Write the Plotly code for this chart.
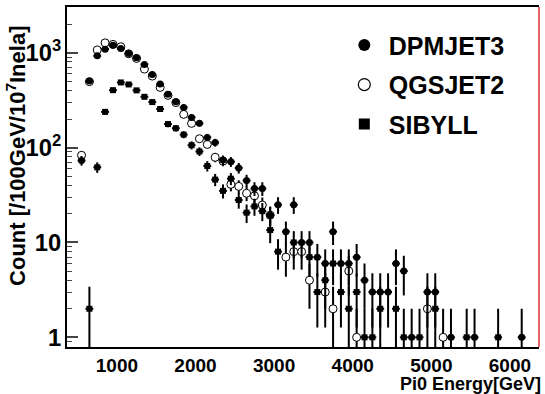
import numpy as np
import plotly.graph_objects as go

# ---------------- data (bin centres in GeV, counts per 100 GeV) ----------------
dpm_x = [550, 650, 750, 850, 950, 1050, 1150, 1250, 1350, 1450, 1550, 1650, 1750, 1850,
         1950, 2050, 2150, 2250, 2350, 2450, 2550, 2650, 2750, 2850, 2950, 3050, 3150,
         3250, 3350, 3450, 3550, 3650, 3750, 3850, 3950, 4050, 4150, 4250, 4350, 4450,
         4550, 4650, 4750, 4950, 5050, 5250, 5550, 6150]
dpm_y = [73, 502, 927, 1091, 1197, 1110, 984, 884, 753, 590, 467, 364, 304, 265,
         208, 180, 128, 113, 74, 71, 61, 45, 37, 37, 19.4, 25, 13,
         25, 10, 10, 7, 6, 13, 6, 6, 7, 4, 3, 3, 3,
         6, 5, 1, 3, 3, 1, 1, 1]

qgs_x = [550, 650, 750, 850, 950, 1050, 1150, 1250, 1350, 1450, 1550, 1650, 1750, 1850,
         1950, 2050, 2150, 2250, 2350, 2450, 2550, 2650, 2750, 2850, 2950, 3150, 3250,
         3350, 3450, 3650, 3750, 3950, 4050, 4950, 5150]
qgs_y = [83, 495, 1070, 1271, 1225, 1156, 975, 870, 672, 567, 431, 355, 298, 224,
         180, 124, 108, 79, 72, 41, 39, 33, 31, 24.8, 19.4, 7, 8,
         8, 4, 3, 2, 5, 1, 2, 1]

sib_x = [650, 750, 850, 950, 1050, 1150, 1250, 1350, 1450, 1550, 1650, 1750, 1850, 1950,
         2050, 2150, 2250, 2350, 2450, 2550, 2650, 2750, 2850, 2950, 3050, 3250, 3450,
         3550, 3650, 3750, 3850, 3950, 4050, 4150, 4250, 4350, 4550, 4650, 4850, 5050,
         5450, 5850]
sib_y = [2, 62, 238, 403, 486, 463, 401, 343, 302, 255, 177, 160, 137, 106,
         91, 64, 46, 35, 47, 28, 20.6, 24, 21.4, 13.5, 8, 10, 7,
         3, 4, 6, 3, 2, 3, 1, 1, 2, 2, 1, 1, 2,
         1, 1]

x_ticks = [1000, 2000, 3000, 4000, 5000, 6000]
BIN_WIDTH = 100  # GeV

FONT = "Liberation Sans, Arial, sans-serif"

fig = go.Figure()


def add_series(xs, ys, name, symbol, size, fill, lw):
    ys = np.asarray(ys, dtype=float)
    err = np.sqrt(ys)  # Poisson statistical errors
    fig.add_trace(go.Scatter(
        x=xs, y=ys, mode="markers", name=name, showlegend=False,
        marker=dict(symbol=symbol, size=size, color=fill,
                    line=dict(color="black", width=lw)),
        error_y=dict(type="data", array=err, color="black", thickness=2, width=0),
        error_x=dict(type="constant", value=BIN_WIDTH / 2, color="black",
                     thickness=2, width=0),
    ))


add_series(qgs_x, qgs_y, "QGSJET2", "circle", 8, "white", 1)
add_series(sib_x, sib_y, "SIBYLL", "square", 6, "black", 0)
add_series(dpm_x, dpm_y, "DPMJET3", "circle", 7, "black", 0)

# legend entries
for name, sym, size, fill, lw in [("DPMJET3", "circle", 12, "black", 0),
                                  ("QGSJET2", "circle", 12, "white", 1.2),
                                  ("SIBYLL", "square", 11, "black", 0)]:
    fig.add_trace(go.Scatter(
        x=[None], y=[None], mode="markers", name=name, legendgroup=name,
        marker=dict(symbol=sym, size=size, color=fill,
                    line=dict(color="black", width=lw)),
    ))

fig.update_layout(
    width=545, height=394,
    margin=dict(l=67, r=6, t=7, b=47),
    paper_bgcolor="white", plot_bgcolor="white",
    font=dict(family=FONT, color="black"),
    showlegend=True,
    legend=dict(x=0.578, y=0.955, xanchor="left", yanchor="top",
                bgcolor="rgba(0,0,0,0)", borderwidth=0, itemwidth=39,
                font=dict(family=FONT, size=25, color="black", weight=700),
                tracegroupgap=4, traceorder="grouped"),
    xaxis=dict(range=[365, 6370], tickvals=x_ticks, ticks="", showgrid=False,
               zeroline=False, showline=True, linecolor="black", linewidth=2,
               mirror=True,
               tickfont=dict(family=FONT, size=19, color="black", weight=700)),
    yaxis=dict(type="log", range=[-0.102, 3.482], dtick=1, exponentformat="power",
               showgrid=False, zeroline=False, showline=True, linecolor="black",
               linewidth=2, ticks="inside", ticklen=11, tickwidth=1.5,
               tickcolor="#444",
               minor=dict(ticks="inside", ticklen=5, tickwidth=1.2, tickcolor="#444",
                          dtick="D1", showgrid=False),
               tickfont=dict(family=FONT, size=19, color="black", weight=700)),
)

fig.add_shape(type="line", xref="paper", yref="paper", x0=1, x1=1, y0=0, y1=1,
              line=dict(color="#e03030", width=1.5))

fig.add_annotation(text="Count [/100GeV/10<sup>7</sup>Inela]", xref="paper", yref="paper",
                   x=-0.108, y=0.562, xanchor="center", yanchor="middle", textangle=-90,
                   showarrow=False,
                   font=dict(family=FONT, size=22, color="black", weight=700))
fig.add_annotation(text="Pi0 Energy[GeV]", xref="paper", yref="paper",
                   x=1.0085, y=-0.109, xanchor="right", yanchor="middle",
                   showarrow=False,
                   font=dict(family=FONT, size=18, color="black", weight=700))

fig.write_html("out.html")
